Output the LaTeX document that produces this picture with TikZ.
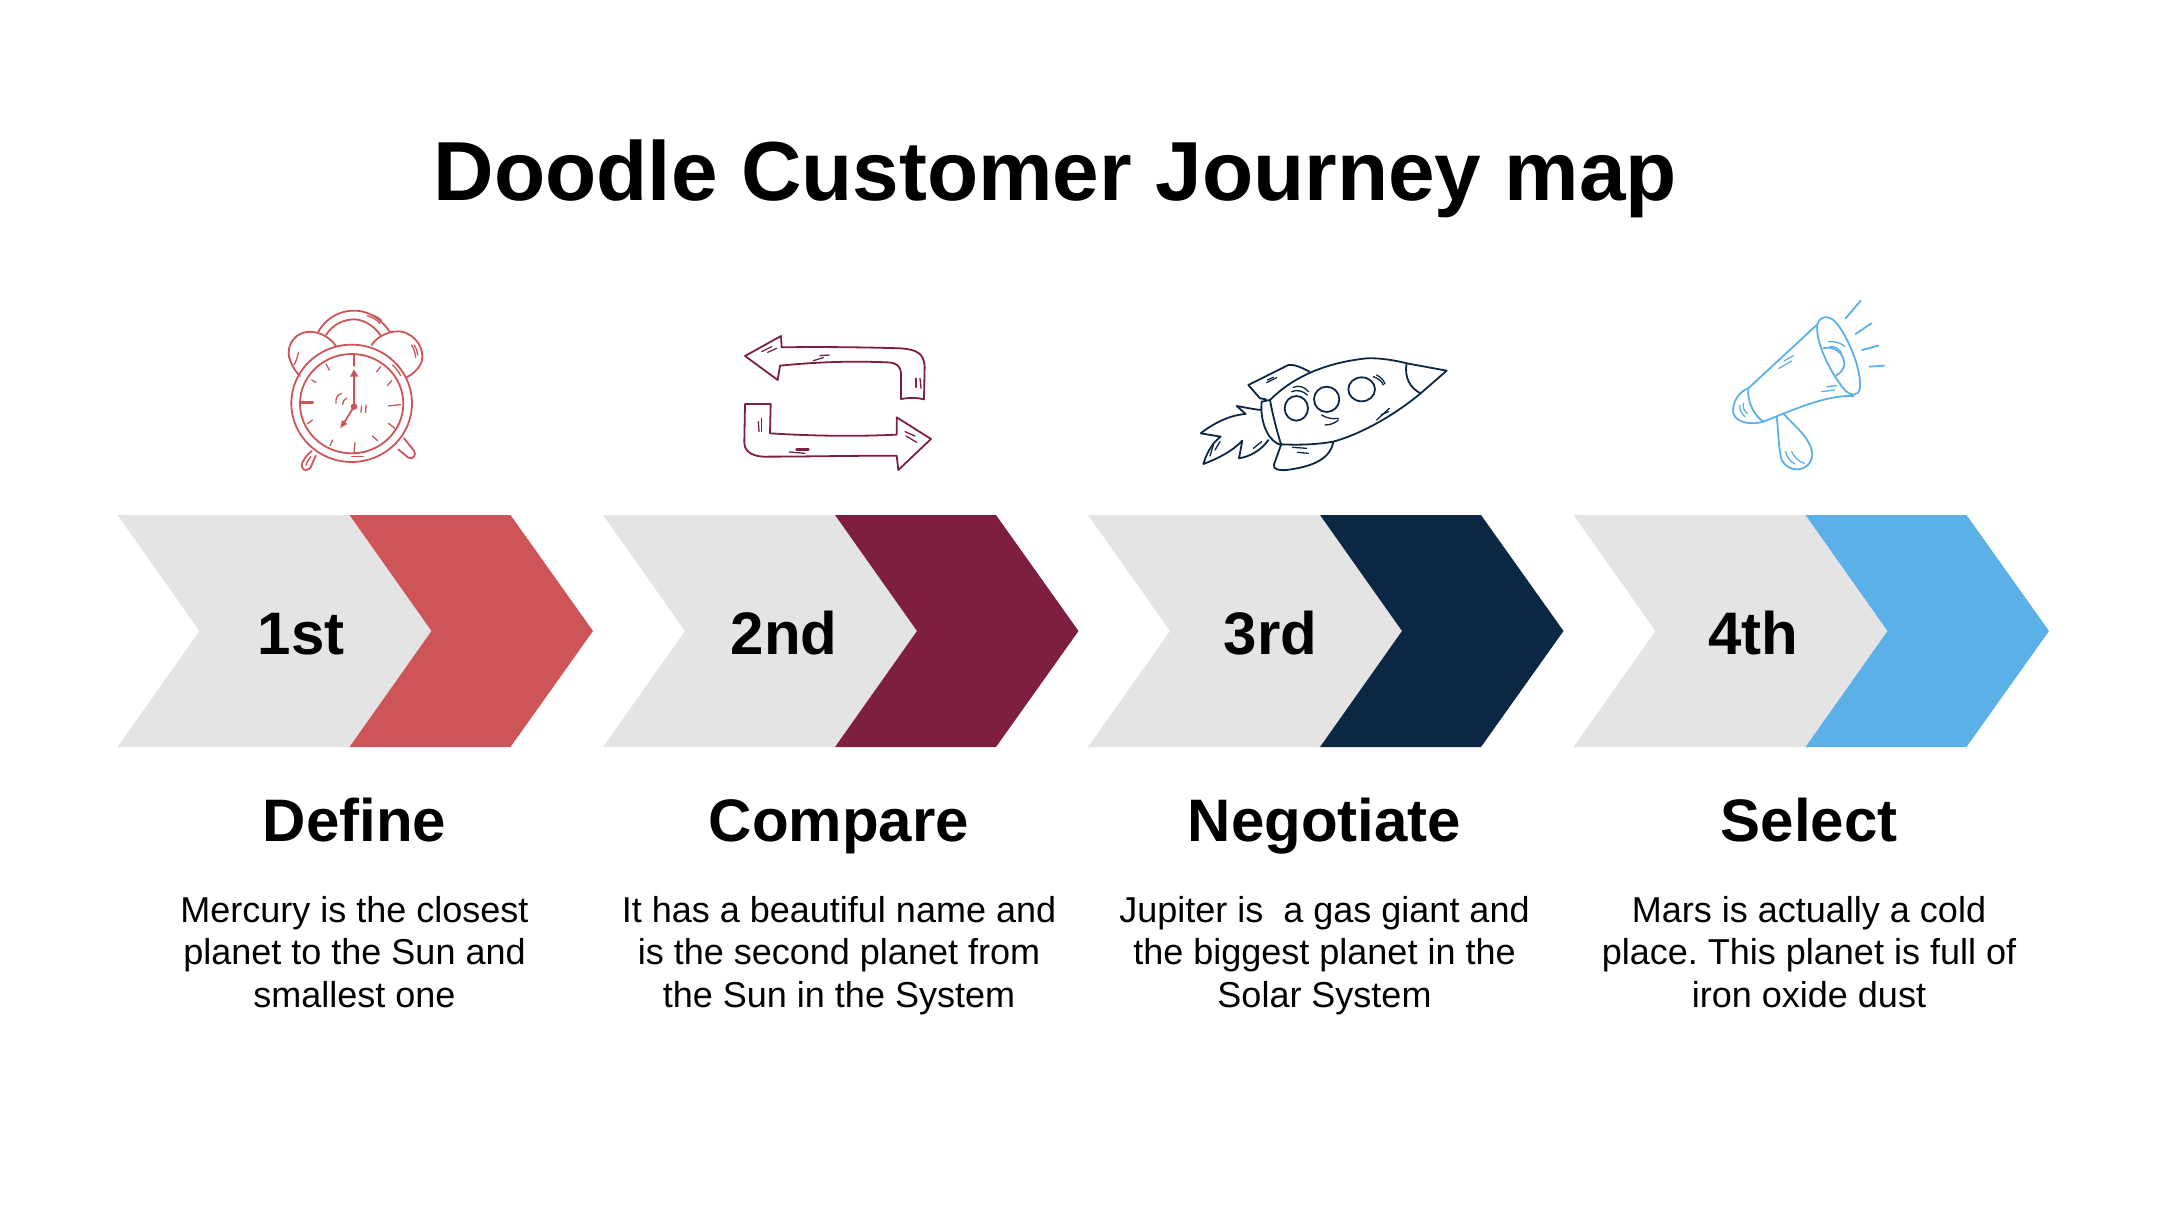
\documentclass[tikz,border=0pt]{standalone}
\usepackage{fontspec}
\setmainfont{Liberation Sans}
\usetikzlibrary{positioning}
\definecolor{cGrey}{HTML}{E4E4E4}
\definecolor{cClock}{HTML}{CD5558}
\definecolor{cLoop}{HTML}{7F1F3E}
\definecolor{cRocket}{HTML}{0C2744}
\definecolor{cHorn}{HTML}{5CB0E8}

\begin{document}
\begin{tikzpicture}[
    x=1pt, y=-1pt,
    % Text styles
    title_text/.style={anchor=base, inner sep=0pt, font=\fontsize{83.8}{96}\selectfont\bfseries},
    rank_text/.style={anchor=base, inner sep=0pt, font=\fontsize{60}{70}\selectfont\bfseries},
    step_text/.style={anchor=base, inner sep=0pt, font=\fontsize{60}{70}\selectfont\bfseries},
    desc_text/.style={anchor=north, inner sep=0pt, align=center, font=\fontsize{36}{42.7}\selectfont\frenchspacing},
    % Icon styles
    icon/.style={x=0.3333pt, y=-0.3333pt, line width=1.8pt, line cap=round, line join=round},
    thin_mark/.style={line width=1.3pt}
]
\useasboundingbox (0,0) rectangle (2160,1215);

\node[title_text] (title) at (1055.5,200.5) {Doodle Customer Journey map};

% --- STEPS ---
\foreach \n/\x/\col/\rx/\rank/\sx/\word/\desc in {
    a/117.5/cClock/301/1st/354.5/Define/{Mercury is the closest\\planet to the Sun and\\smallest one},
    b/603/cLoop/784/2nd/839/Compare/{It has a beautiful name and\\is the second planet from\\the Sun in the System},
    c/1088/cRocket/1270.5/3rd/1324.5/Negotiate/{Jupiter is\ \ a gas giant and\\the biggest planet in the\\Solar System},
    d/1573.5/cHorn/1753.6/4th/1809/Select/{Mars is actually a cold\\place. This planet is full of\\iron oxide dust}} {
    \fill[cGrey] (\x,515) -- ++(232,0) -- ++(82,116) -- ++(-82,116) -- ++(-232,0) -- ++(82,-116) -- cycle;
    \fill[\col] (\x+232,515) -- ++(161,0) -- ++(82.5,116) -- ++(-82.5,116) -- ++(-161,0) -- ++(82,-116) -- cycle;
    \node[rank_text] (rank_\n) at (\rx,654) {\rank};
    \node[step_text] (step_\n) at (\sx,841) {\word};
    \node[desc_text, below=55pt of step_\n.base] (desc_\n) {\desc};
}

% --- CLOCK ---
\begin{scope}[shift={(250,280)}, icon, draw=cClock]
\draw (305,370) ellipse [x radius=181, y radius=176];
\draw (305,371) ellipse [x radius=155, y radius=149];
% bells and handle
\draw (258,198) .. controls (235,165) and (195,150) .. (165,157) .. controls (125,165) and (105,210) .. (122,245) .. controls (128,262) and (140,278) .. (150,288);
\draw (365,195) .. controls (385,165) and (425,150) .. (455,155) .. controls (500,165) and (525,210) .. (515,245) .. controls (505,270) and (485,285) .. (468,293);
\draw (205,155) .. controls (235,105) and (280,90) .. (320,92) .. controls (365,95) and (400,125) .. (420,157);
\draw (228,165) .. controls (250,130) and (285,118) .. (315,118) .. controls (345,120) and (375,140) .. (393,168);
% feet
\draw (185,513) .. controls (170,525) and (155,545) .. (155,558) .. controls (158,575) and (175,572) .. (182,562) -- (197,527);
\draw (462,475) -- (492,512) .. controls (500,525) and (490,540) .. (475,533) -- (445,508);
% dial
\foreach \ax/\ay/\bx/\by in {312/225/312/258, 392/260/380/275, 425/302/413/316, 415/378/452/374, 415/430/435/445, 367/468/383/482, 315/488/312/518, 248/480/240/497, 188/420/172/432, 185/300/198/307, 228/252/238/270}
    \draw[thin_mark] (\ax,\ay) -- (\bx,\by);
\draw[line width=2.8pt] (150,367) -- (188,367);
% hands
\draw (312,380) -- (312,280);
\draw (312,380) -- (280,432);
\fill[cClock] (312,268) -- (325,290) -- (300,290) -- cycle;
\fill[cClock] (271,444) -- (276,420) -- (292,432) -- cycle;
\fill[cClock] (312,380) circle [radius=10];
% marks
\draw[thin_mark] (258,370) .. controls (256,355) and (262,345) .. (275,340);
\draw[thin_mark] (278,373) .. controls (277,365) and (282,358) .. (290,355);
\draw[thin_mark] (348,375) -- (347,398);
\draw[thin_mark] (335,378) -- (333,397);
\draw[thin_mark] (352,107) .. controls (368,112) and (380,120) .. (390,130);
\draw[thin_mark] (365,105) .. controls (378,108) and (388,114) .. (395,122);
\draw[thin_mark] (145,218) .. controls (142,232) and (138,245) .. (132,255);
\draw[thin_mark] (485,195) .. controls (492,207) and (496,220) .. (497,232);
\draw[thin_mark] (492,195) .. controls (499,205) and (503,215) .. (503,225);
\draw[thin_mark] (428,255) .. controls (438,265) and (446,275) .. (452,287);
\draw[thin_mark] (305,530) -- (340,530);
\draw[thin_mark] (182,530) .. controls (176,538) and (170,548) .. (168,556);
\end{scope}

% --- LOOP ARROWS ---
\begin{scope}[shift={(720,310)}, icon, draw=cLoop]
\draw (75,138) -- (183,78) -- (185,112) .. controls (300,110) and (450,112) .. (540,115) .. controls (590,118) and (612,130) .. (614,170) -- (612,268) .. controls (590,262) and (565,263) .. (543,267) -- (543,200) .. controls (545,170) and (530,157) .. (500,157) .. controls (400,153) and (300,155) .. (180,167) -- (173,210) -- cycle;
\draw (75,282) -- (152,282) -- (150,370) .. controls (280,378) and (400,380) .. (530,374) -- (530,322) -- (633,387) -- (535,480) -- (530,437) .. controls (400,437) and (250,440) .. (130,440) .. controls (90,438) and (72,420) .. (73,395) -- cycle;
\foreach \ax/\ay/\bx/\by in {125/125/155/110, 143/127/170/115, 280/152/310/143, 300/137/328/135, 600/205/603/235, 588/205/588/232, 125/325/125/365, 115/335/117/365, 208/426/255/430, 555/365/585/378, 558/378/590/397}
    \draw[thin_mark] (\ax,\ay) -- (\bx,\by);
\draw[line width=2.8pt] (230,418) -- (265,418);
\end{scope}

% --- ROCKET ---
\begin{scope}[shift={(1180,330)}, icon, draw=cRocket]
\draw (270,210) .. controls (330,150) and (420,100) .. (560,85) .. controls (600,83) and (650,92) .. (680,100) -- (800,122) -- (722,190) .. controls (650,250) and (550,310) .. (460,335) .. controls (400,345) and (350,345) .. (303,343);
\draw (680,100) .. controls (672,140) and (690,175) .. (722,190);
\draw (270,210) .. controls (278,255) and (290,300) .. (303,343);
\draw (270,210) -- (245,215) .. controls (240,260) and (255,330) .. (303,345);
% fins
\draw (258,208) -- (240,205) -- (205,165) -- (325,105) .. controls (340,102) and (365,112) .. (388,125);
\draw (303,345) -- (282,403) .. controls (278,418) and (295,422) .. (320,420) .. controls (380,412) and (450,395) .. (460,335);
% windows
\draw (349,235) ellipse [x radius=35, y radius=37];
\draw (440,208) ellipse [x radius=38, y radius=38];
\draw (545,178) ellipse [x radius=40, y radius=36];
% flame
\draw (243,240) .. controls (220,238) and (195,232) .. (170,228) -- (197,252) .. controls (150,255) and (100,280) .. (62,310) -- (122,320) .. controls (95,340) and (80,370) .. (70,402) .. controls (115,385) and (155,365) .. (187,332) -- (177,385) .. controls (210,380) and (245,360) .. (265,330);
% marks
\foreach \ax/\ay/\bx/\by in {260/158/290/143, 262/150/280/142, 590/270/628/235, 603/255/625/245, 338/352/380/355, 353/367/385/370, 220/355/245/335, 90/378/100/345, 105/360/120/335}
    \draw[thin_mark] (\ax,\ay) -- (\bx,\by);
\draw[thin_mark] (335,185) .. controls (350,178) and (370,183) .. (382,195);
\draw[thin_mark] (340,172) .. controls (355,165) and (375,170) .. (385,185);
\draw[thin_mark] (425,255) .. controls (440,265) and (460,268) .. (475,265);
\draw[thin_mark] (435,285) .. controls (450,285) and (465,280) .. (475,270);
\draw[thin_mark] (580,140) .. controls (595,145) and (607,155) .. (610,165);
\draw[thin_mark] (590,135) .. controls (603,142) and (612,152) .. (615,162);
\end{scope}

% --- MEGAPHONE ---
\begin{scope}[shift={(1710,285)}, icon, draw=cHorn]
\draw (322,118) .. controls (330,90) and (360,90) .. (380,115) .. controls (420,165) and (455,260) .. (450,310) .. controls (445,335) and (420,335) .. (400,310) .. controls (360,260) and (315,170) .. (322,118);
\draw (322,118) -- (115,310);
\draw (430,333) .. controls (350,330) and (260,370) .. (160,410);
\draw (115,310) .. controls (85,320) and (65,355) .. (70,385) .. controls (80,415) and (125,420) .. (160,410);
\draw (115,310) .. controls (110,345) and (130,390) .. (160,410);
\draw (340,190) .. controls (370,180) and (405,205) .. (403,240) .. controls (400,255) and (390,265) .. (378,272);
\draw (200,397) .. controls (205,430) and (205,490) .. (215,525) .. controls (235,565) and (300,565) .. (307,510) .. controls (305,460) and (250,420) .. (222,388);
\foreach \ax/\ay/\bx/\by in {407/100/452/47, 437/147/484/115, 456/195/505/182, 479/245/522/242}
    \draw (\ax,\ay) -- (\bx,\by);
\foreach \ax/\ay/\bx/\by in {207/250/245/228, 222/228/250/212, 335/320/375/315, 350/305/380/302}
    \draw[thin_mark] (\ax,\ay) -- (\bx,\by);
\draw[thin_mark] (355,170) .. controls (375,168) and (395,175) .. (405,185);
\draw[thin_mark] (360,185) .. controls (375,183) and (388,192) .. (395,205);
\draw[thin_mark] (90,360) .. controls (88,375) and (95,388) .. (105,395);
\draw[thin_mark] (100,355) .. controls (98,368) and (103,378) .. (112,385);
\draw[thin_mark] (227,500) .. controls (230,515) and (240,530) .. (255,537);
\draw[thin_mark] (245,500) .. controls (252,515) and (265,530) .. (283,535);
\end{scope}

\end{tikzpicture}
\end{document}
